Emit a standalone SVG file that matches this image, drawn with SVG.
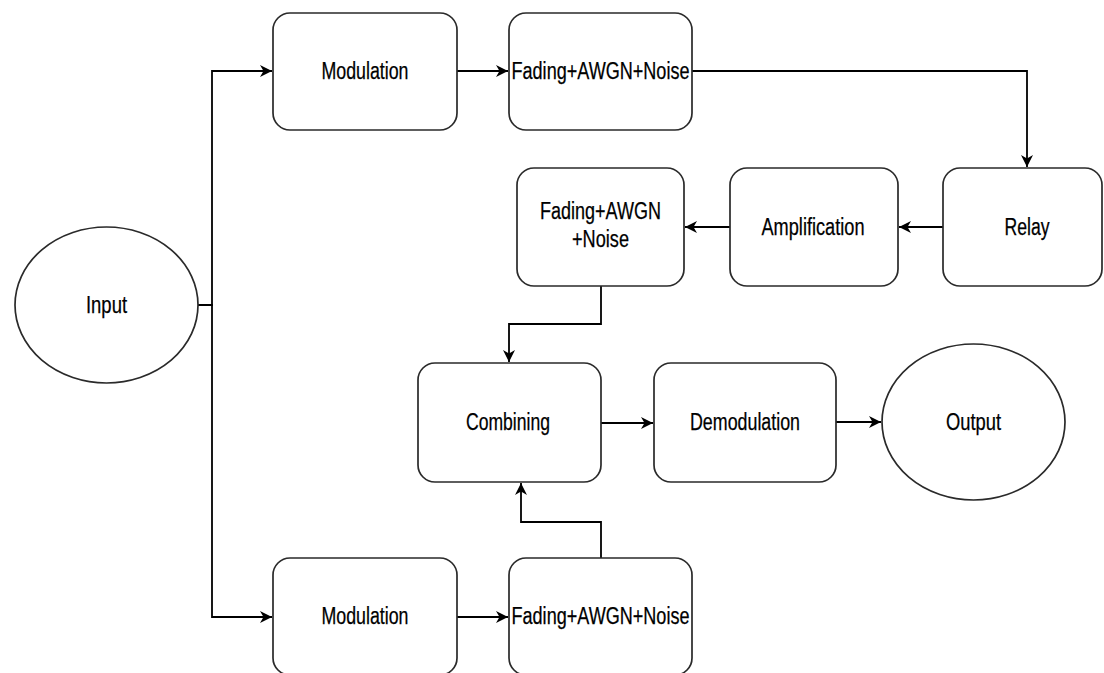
<svg xmlns="http://www.w3.org/2000/svg" width="1104" height="673" viewBox="0 0 1104 673">
  <defs>
    <marker id="arrow" markerUnits="userSpaceOnUse" markerWidth="13" markerHeight="12" viewBox="0 0 13 12" refX="12" refY="6" orient="auto">
      <path d="M0,0 L12,6 L0,12 L3.5,6 Z" fill="#000"/>
    </marker>
    <style>
      .box { fill: #fff; stroke: #2a2a2a; stroke-width: 1.7; }
      .lbl { font-family: "Liberation Sans", Arial, Helvetica, sans-serif; font-size: 23px; fill: #000; stroke: #000; stroke-width: 0.25; text-anchor: middle; }
      .edge { fill: none; stroke: #000; stroke-width: 1.8; }
    </style>
  </defs>
  <rect width="1104" height="673" fill="#fff"/>

  <!-- connectors -->
  <g id="connectors">
    <path class="edge" d="M198,305 H212 V71 H272" marker-end="url(#arrow)"/>
    <path class="edge" d="M198,305 H212 V617 H272" marker-end="url(#arrow)"/>
    <path class="edge" d="M457,71 H508" marker-end="url(#arrow)"/>
    <path class="edge" d="M692,71 H1027 V167" marker-end="url(#arrow)"/>
    <path class="edge" d="M943,227 H899" marker-end="url(#arrow)"/>
    <path class="edge" d="M730,227 H685" marker-end="url(#arrow)"/>
    <path class="edge" d="M601,286 V324 H509 V362" marker-end="url(#arrow)"/>
    <path class="edge" d="M601,423 H653" marker-end="url(#arrow)"/>
    <path class="edge" d="M836,422 H881" marker-end="url(#arrow)"/>
    <path class="edge" d="M457,617 H508" marker-end="url(#arrow)"/>
    <path class="edge" d="M601,558 V522 H521 V483" marker-end="url(#arrow)"/>
  </g>

  <!-- nodes -->
  <g id="input">
    <ellipse class="box" cx="106.5" cy="305" rx="91.5" ry="78"/>
    <text class="lbl" x="106.5" y="313" textLength="41" lengthAdjust="spacingAndGlyphs">Input</text>
  </g>
  <g id="modulation-top">
    <rect class="box" x="273" y="13" width="184" height="117" rx="17"/>
    <text class="lbl" x="365" y="79" textLength="87" lengthAdjust="spacingAndGlyphs">Modulation</text>
  </g>
  <g id="channel-top">
    <rect class="box" x="509" y="13" width="183" height="117" rx="17"/>
    <text class="lbl" x="600.5" y="79" textLength="178" lengthAdjust="spacingAndGlyphs">Fading+AWGN+Noise</text>
  </g>
  <g id="relay">
    <rect class="box" x="943" y="168" width="159" height="118" rx="17"/>
    <text class="lbl" x="1027" y="235" textLength="45" lengthAdjust="spacingAndGlyphs">Relay</text>
  </g>
  <g id="amplification">
    <rect class="box" x="730" y="168" width="168" height="118" rx="17"/>
    <text class="lbl" x="813" y="235" textLength="103" lengthAdjust="spacingAndGlyphs">Amplification</text>
  </g>
  <g id="channel-relay">
    <rect class="box" x="517" y="168" width="167" height="118" rx="17"/>
    <text class="lbl" x="600.5" y="219" textLength="121" lengthAdjust="spacingAndGlyphs">Fading+AWGN</text>
    <text class="lbl" x="600.5" y="247" textLength="57" lengthAdjust="spacingAndGlyphs">+Noise</text>
  </g>
  <g id="combining">
    <rect class="box" x="418" y="363" width="183" height="119" rx="17"/>
    <text class="lbl" x="508" y="430" textLength="84" lengthAdjust="spacingAndGlyphs">Combining</text>
  </g>
  <g id="demodulation">
    <rect class="box" x="654" y="363" width="182" height="119" rx="17"/>
    <text class="lbl" x="745" y="430" textLength="110" lengthAdjust="spacingAndGlyphs">Demodulation</text>
  </g>
  <g id="output">
    <ellipse class="box" cx="973.5" cy="422" rx="91.5" ry="78"/>
    <text class="lbl" x="973.5" y="430" textLength="55" lengthAdjust="spacingAndGlyphs">Output</text>
  </g>
  <g id="modulation-bottom">
    <rect class="box" x="273" y="558" width="184" height="117" rx="17"/>
    <text class="lbl" x="365" y="624" textLength="87" lengthAdjust="spacingAndGlyphs">Modulation</text>
  </g>
  <g id="channel-bottom">
    <rect class="box" x="509" y="558" width="183" height="117" rx="17"/>
    <text class="lbl" x="600.5" y="624" textLength="178" lengthAdjust="spacingAndGlyphs">Fading+AWGN+Noise</text>
  </g>
</svg>
